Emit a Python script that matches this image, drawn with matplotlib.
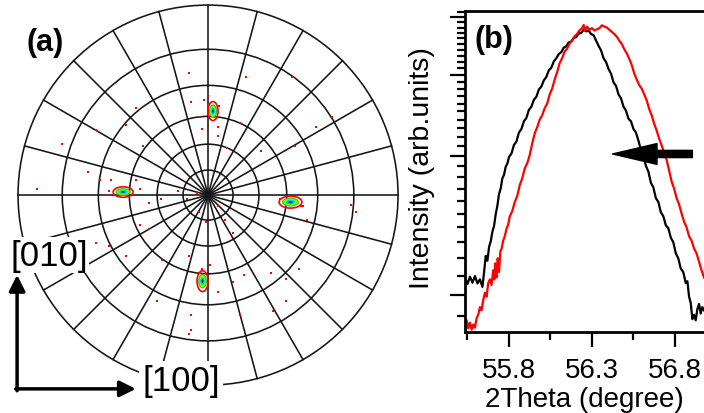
import numpy as np
import matplotlib
matplotlib.use('Agg')
import matplotlib.pyplot as plt
from matplotlib.patches import Ellipse, Circle
from matplotlib.ticker import FixedLocator, NullFormatter

plt.rcParams.update({
	'font.family': ['Liberation Sans', 'DejaVu Sans'],
	'font.size': 18,
})

# ---- (a) pole figure ----
# grid of the stereographic net (psi rings, phi spokes), degrees
psi_rings = [15, 30, 45, 60, 75, 90]
phi_spokes = list(range(0, 360, 15))

# four main poles: centre x, y (outer ring = 1) and spot size
spot_x = [0.026, -0.447, 0.434, -0.029]
spot_y = [0.442, 0.016, -0.037, -0.453]
spot_w = [0.053, 0.105, 0.120, 0.058]
spot_h = [0.100, 0.055, 0.063, 0.110]

# weak scattered intensity (red pixels)
dots_x = [-0.10, 0.20, 0.44, -0.38, -0.09, -0.04, 0.05, 0.65, 0.57, -0.77, -0.59, -0.43,
	-0.34, -0.03, 0.05, 0.10, 0.28, 0.46, -0.63, -0.57, -0.90, -0.51, -0.38, -0.53,
	-0.36, -0.31, -0.25, -0.16, -0.11, -0.06, -0.05, -0.01, 0.05, 0.09, 0.13, 0.38,
	0.49, 0.52, 0.75, 0.78, -0.59, -0.52, -0.43, -0.36, -0.31, -0.24, -0.10, -0.04,
	0.01, 0.05, 0.13, 0.19, 0.33, 0.41, 0.48, 0.41, 0.34, -0.27, -0.09, 0.17,
	-0.10, -0.09, 0.17, 0.00, -0.02, 0.06, -0.03, -0.52, 0.38, 0.50]
dots_y = [0.64, 0.62, 0.62, 0.46, 0.49, 0.41, 0.36, 0.41, 0.36, 0.27, 0.34, 0.37,
	0.26, 0.35, 0.31, 0.25, 0.23, 0.26, 0.12, 0.08, 0.03, 0.08, 0.08, 0.00,
	0.03, -0.04, -0.02, 0.02, -0.02, 0.01, -0.09, -0.14, -0.06, -0.13, -0.20, -0.02,
	-0.06, -0.13, -0.05, -0.09, -0.25, -0.27, -0.32, -0.16, -0.18, -0.34, -0.32, -0.41,
	-0.37, -0.51, -0.46, -0.42, -0.41, -0.44, -0.39, -0.56, -0.61, -0.56, -0.63, -0.63,
	-0.73, -0.71, 0.38, 0.52, 0.50, 0.47, -0.39, 0.02, -0.02, -0.06]

# ---- (b) 2theta scans ----
black_2theta = [55.536, 55.550, 55.565, 55.580, 55.595, 55.610, 55.625, 55.640, 55.650, 55.660,
	55.670, 55.680, 55.690, 55.700, 55.710, 55.720, 55.730, 55.740, 55.750, 55.760,
	55.770, 55.780, 55.790, 55.800, 55.815, 55.830, 55.845, 55.860, 55.875, 55.890,
	55.905, 55.920, 55.935, 55.950, 55.965, 55.980, 55.995, 56.010, 56.025, 56.040,
	56.055, 56.070, 56.085, 56.100, 56.115, 56.130, 56.145, 56.160, 56.175, 56.190,
	56.205, 56.220, 56.235, 56.250, 56.265, 56.280, 56.295, 56.310, 56.325, 56.340,
	56.355, 56.370, 56.385, 56.400, 56.415, 56.430, 56.445, 56.460, 56.475, 56.490,
	56.505, 56.520, 56.535, 56.550, 56.565, 56.580, 56.595, 56.610, 56.625, 56.640,
	56.655, 56.670, 56.685, 56.700, 56.715, 56.730, 56.745, 56.760, 56.775, 56.790,
	56.805, 56.820, 56.835, 56.850, 56.865, 56.875, 56.885, 56.895, 56.905, 56.915,
	56.925, 56.935, 56.945, 56.955, 56.965, 56.975]
black_int = [1085, 1055, 1095, 1062, 1098, 1058, 1080, 1040, 1120, 1215,
	1185, 1270, 1305, 1370, 1410, 1495, 1560, 1655, 1700, 1790,
	1820, 1895, 1925, 1990, 2025, 2115, 2150, 2250, 2290, 2380,
	2420, 2520, 2560, 2650, 2690, 2790, 2830, 2920, 2970, 3070,
	3110, 3210, 3260, 3330, 3360, 3440, 3460, 3530, 3545, 3610,
	3625, 3690, 3700, 3760, 3730, 3745, 3680, 3660, 3560, 3470,
	3390, 3260, 3200, 3090, 3020, 2890, 2840, 2720, 2670, 2560,
	2510, 2410, 2380, 2290, 2250, 2160, 2060, 2000, 1905, 1850,
	1750, 1710, 1620, 1590, 1510, 1480, 1415, 1395, 1330, 1300,
	1230, 1200, 1140, 1120, 1060, 1070, 990, 960, 885, 905,
	880, 930, 955, 910, 940, 925]

red_2theta = [55.536, 55.545, 55.555, 55.565, 55.575, 55.585, 55.595, 55.605, 55.615, 55.625,
	55.635, 55.645, 55.655, 55.665, 55.675, 55.685, 55.695, 55.705, 55.712, 55.718,
	55.725, 55.732, 55.740, 55.748, 55.756, 55.765, 55.775, 55.785, 55.795, 55.805,
	55.820, 55.835, 55.850, 55.865, 55.880, 55.895, 55.910, 55.925, 55.940, 55.955,
	55.970, 55.985, 56.000, 56.015, 56.030, 56.045, 56.060, 56.075, 56.090, 56.105,
	56.120, 56.135, 56.150, 56.165, 56.180, 56.195, 56.210, 56.225, 56.240, 56.250,
	56.260, 56.270, 56.285, 56.300, 56.315, 56.330, 56.345, 56.360, 56.375, 56.390,
	56.405, 56.420, 56.435, 56.450, 56.465, 56.480, 56.495, 56.510, 56.525, 56.540,
	56.555, 56.570, 56.585, 56.600, 56.615, 56.630, 56.645, 56.660, 56.675, 56.690,
	56.705, 56.720, 56.735, 56.750, 56.765, 56.780, 56.795, 56.810, 56.825, 56.840,
	56.855, 56.870, 56.885, 56.900, 56.915, 56.930, 56.945, 56.960, 56.975]
red_int = [850, 880, 845, 870, 840, 862, 848, 890, 905, 940,
	925, 975, 1010, 990, 1060, 1080, 1050, 1130, 1080, 1170,
	1090, 1200, 1120, 1240, 1260, 1310, 1340, 1390, 1420, 1480,
	1520, 1590, 1640, 1730, 1790, 1880, 1930, 2010, 2130, 2240,
	2310, 2400, 2450, 2540, 2600, 2720, 2800, 2930, 3040, 3180,
	3260, 3370, 3420, 3510, 3560, 3640, 3680, 3750, 3790, 3850,
	3740, 3820, 3760, 3790, 3745, 3770, 3790, 3845, 3820, 3800,
	3760, 3720, 3680, 3630, 3560, 3500, 3410, 3340, 3250, 3150,
	3020, 2930, 2850, 2800, 2720, 2640, 2530, 2450, 2350, 2270,
	2180, 2110, 2030, 1960, 1860, 1760, 1700, 1620, 1570, 1500,
	1440, 1400, 1340, 1310, 1260, 1230, 1180, 1130, 1090]

x_major = [55.8, 56.3, 56.8]
x_minor = [55.55, 56.05, 56.55]
y_major = [1000, 2000, 3000, 4000]
y_minor = [900] + list(range(1100, 2000, 100)) + list(range(2100, 3000, 100)) + list(range(3100, 4000, 100)) + [4100]

fig = plt.figure(figsize=(7.04, 4.14), dpi=100)

# pole figure panel
ax = fig.add_axes([0, 0, 410 / 704, 1])
ax.set_xlim(-1.095, 1.063)
ax.set_ylim(-1.147, 1.032)
ax.set_aspect('equal')
ax.axis('off')

for psi in psi_rings:
	r = np.tan(np.radians(psi) / 2)
	ax.add_patch(Circle((0, 0), r, fill=False, lw=1.15, ec='#151515', zorder=1))
for phi in phi_spokes:
	a = np.radians(phi)
	ax.plot([0, np.cos(a)], [0, np.sin(a)], lw=1.15, color='#151515', zorder=1)

ax.scatter(dots_x, dots_y, s=3, marker='s', color='red', linewidths=0, zorder=2)
for x, y, w, h in zip(spot_x, spot_y, spot_w, spot_h):
	ax.add_patch(Ellipse((x, y), w, h, fill=False, ec='red', lw=1.2, zorder=3))
	ax.add_patch(Ellipse((x, y), w * 0.7, h * 0.65, fc='#7CFC00', ec='#22cc22', lw=0.8, zorder=4))
	ax.add_patch(Ellipse((x, y), w * 0.4, h * 0.35, fc='#00c8e0', ec='none', zorder=5))
	ax.add_patch(Ellipse((x, y), w * 0.18, h * 0.18, fc='#1030c0', ec='none', zorder=6))

ax.text(-0.858, 0.805, '(a)', fontsize=22, fontweight='bold', ha='center', va='center')
ax.text(-0.837, -0.316, '[010]', fontsize=25, ha='center', va='center', zorder=7,
	bbox=dict(fc='white', ec='none', pad=1))
ax.text(-0.142, -0.974, '[100]', fontsize=25, ha='center', va='center', zorder=7,
	bbox=dict(fc='white', ec='none', pad=2))
ax.annotate('', xy=(-1.005, -0.42), xytext=(-1.005, -1.03), zorder=8,
	arrowprops=dict(arrowstyle='-|>', lw=2.5, color='k', mutation_scale=24, shrinkA=0, shrinkB=0))
ax.annotate('', xy=(-0.38, -1.02), xytext=(-1.012, -1.02), zorder=8,
	arrowprops=dict(arrowstyle='-|>', lw=2.5, color='k', mutation_scale=24, shrinkA=0, shrinkB=0))

# 2theta panel
bx = fig.add_axes([465 / 704, 1 - 333 / 414, 1 - 465 / 704, 321 / 414])
bx.plot(black_2theta, black_int, color='black', lw=1.6)
bx.plot(red_2theta, red_int, color='red', lw=1.6)
bx.set_yscale('log')
bx.set_xlim(55.535, 56.975)
bx.set_ylim(830, 4130)
bx.xaxis.set_major_locator(FixedLocator(x_major))
bx.xaxis.set_minor_locator(FixedLocator(x_minor))
bx.set_xticklabels(['55.8', '56.3', '56.8'])
bx.yaxis.set_major_locator(FixedLocator(y_major))
bx.yaxis.set_minor_locator(FixedLocator(y_minor))
bx.yaxis.set_major_formatter(NullFormatter())
bx.yaxis.set_minor_formatter(NullFormatter())
bx.tick_params(which='major', length=11, width=1.6, direction='out', pad=7, labelsize=20)
bx.tick_params(which='minor', length=6, width=1.6, direction='out')
bx.tick_params(axis='x', which='both', top=False)
bx.tick_params(axis='y', which='both', right=False)
for s in ['left', 'top', 'bottom']:
	bx.spines[s].set_linewidth(2)
bx.spines['right'].set_visible(False)
bx.set_xlabel('2Theta (degree)', fontsize=20, va='bottom')
bx.xaxis.set_label_coords(0.5, -0.2505)
bx.set_ylabel('Intensity (arb.units)', fontsize=20.5)
bx.yaxis.set_label_coords(-0.125, 0.514)
bx.text(0.121, 0.913, '(b)', transform=bx.transAxes, fontsize=22, fontweight='bold', ha='center', va='center')
bx.annotate('', xy=(56.424, 2021), xytext=(56.905, 2021),
	arrowprops=dict(arrowstyle='simple,head_length=1.6,head_width=0.75,tail_width=0.26',
		color='black', mutation_scale=20, shrinkA=0, shrinkB=0))

plt.savefig('out.png', dpi=100)
